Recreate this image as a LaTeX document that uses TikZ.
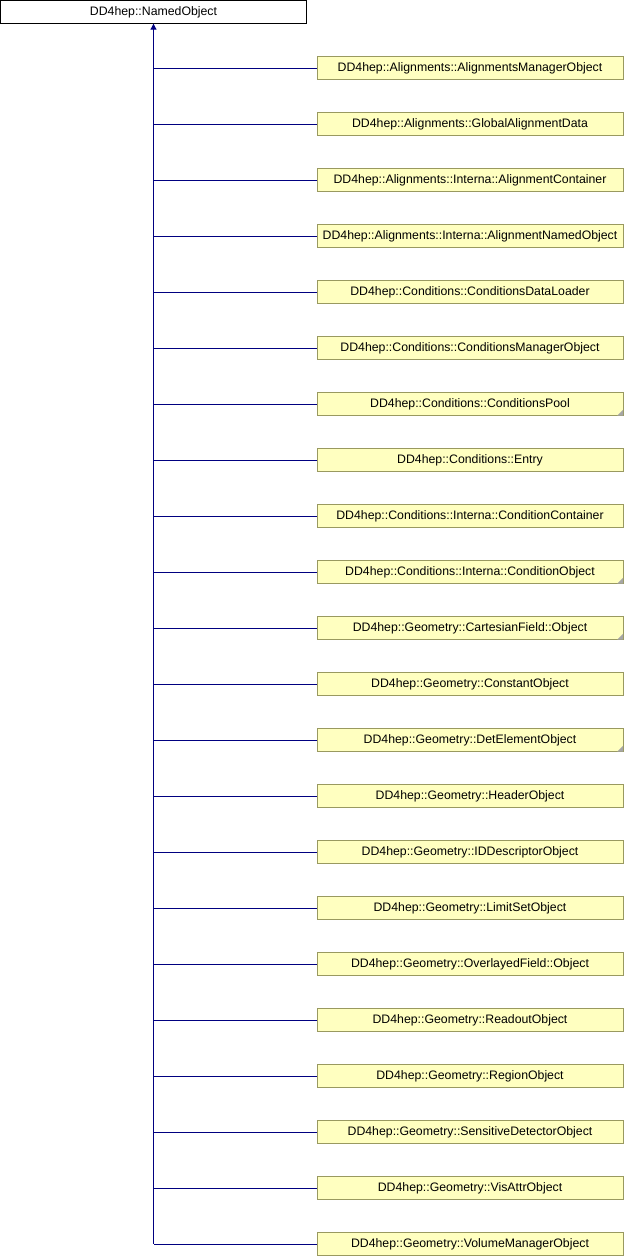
\documentclass[tikz,border=0pt]{standalone}
\usepackage{fontspec}
\setmainfont{Liberation Sans}
\usetikzlibrary{arrows.meta}
\definecolor{boxfill}{RGB}{255,255,192}
\definecolor{boxline}{RGB}{153,153,96}
\definecolor{edgeblue}{RGB}{0,0,128}
\tikzset{
    basenode/.style = {draw=black, fill=white, minimum width=306, minimum height=23, inner sep=0pt, font=\fontsize{12.3}{14}\selectfont},
    classnode/.style = {draw=boxline, fill=boxfill, minimum width=306, minimum height=23, inner sep=0pt, font=\fontsize{12.3}{14}\selectfont},
}

\begin{document}
\begin{tikzpicture}[x=1pt, y=-1pt]
\tikzset{
    edgen/.style = {edgeblue, line width=1pt},
    edgea/.style = {edgeblue, line width=1pt, {Triangle[length=6pt,width=6pt]}-}
}
\useasboundingbox (0,0) rectangle (624,1256);
\node[basenode] at (153.5,12) (base) {DD4hep::NamedObject};
\foreach \lbl [count=\i] in {
    DD4hep::Alignments::AlignmentsManagerObject,
    DD4hep::Alignments::GlobalAlignmentData,
    DD4hep::Alignments::Interna::AlignmentContainer,
    DD4hep::Alignments::Interna::AlignmentNamedObject,
    DD4hep::Conditions::ConditionsDataLoader,
    DD4hep::Conditions::ConditionsManagerObject,
    DD4hep::Conditions::ConditionsPool,
    DD4hep::Conditions::Entry,
    DD4hep::Conditions::Interna::ConditionContainer,
    DD4hep::Conditions::Interna::ConditionObject,
    DD4hep::Geometry::CartesianField::Object,
    DD4hep::Geometry::ConstantObject,
    DD4hep::Geometry::DetElementObject,
    DD4hep::Geometry::HeaderObject,
    DD4hep::Geometry::IDDescriptorObject,
    DD4hep::Geometry::LimitSetObject,
    DD4hep::Geometry::OverlayedField::Object,
    DD4hep::Geometry::ReadoutObject,
    DD4hep::Geometry::RegionObject,
    DD4hep::Geometry::SensitiveDetectorObject,
    DD4hep::Geometry::VisAttrObject,
    DD4hep::Geometry::VolumeManagerObject}
{
    \node[classnode] at (470,12+56*\i) (c\i) {\lbl};
    \coordinate (j\i) at (153.5,12+56*\i);
    \draw[edgen] (c\i.west) -- (j\i);
}
% truncated classes
\foreach \i in {7,10,11,13}
    \fill[gray!70] (c\i.south east) -- ++(-6,0) -- ++(6,-6) -- cycle;
\draw[edgea] (base.south) -- (j22);
\end{tikzpicture}
\end{document}
